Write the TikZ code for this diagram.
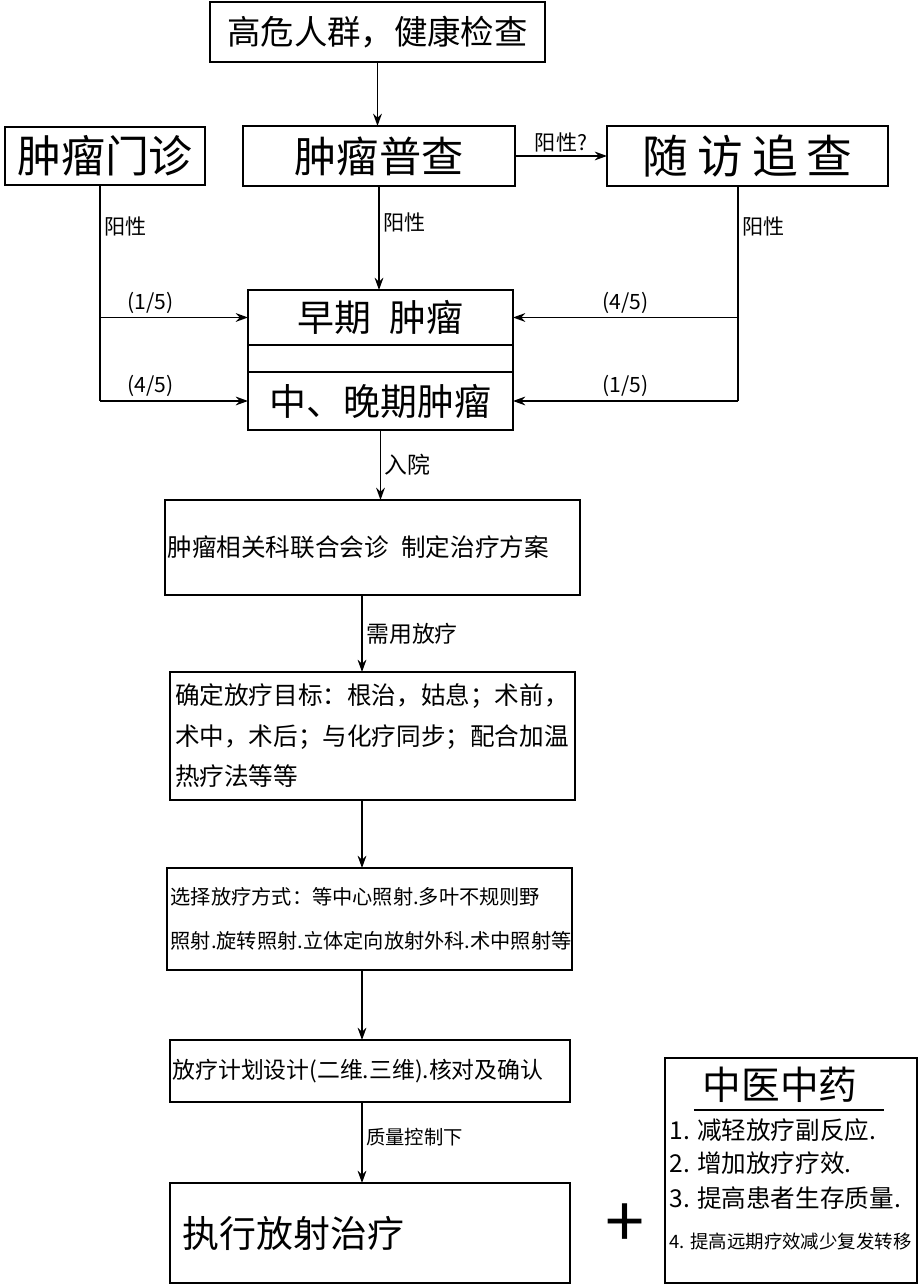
\documentclass[tikz,border=0pt]{standalone}
\usepackage{fontspec}
\setmainfont{Noto Sans CJK SC}
\usetikzlibrary{positioning,arrows.meta}
\tikzset{
  box/.style={draw, line width=1.3pt, outer sep=0pt, inner sep=0pt},
  flow/.style={-{Stealth[length=7pt,width=5pt]}, line width=0.9pt},
  bus/.style={line width=0.9pt},
  lbl/.style={font=\fontsize{12}{14}\selectfont, inner sep=2pt},
  item/.style={anchor=west, inner sep=0pt, font=\fontsize{14}{16}\selectfont},
}
\begin{document}
\begin{tikzpicture}
\path[fill=white] (0,0) rectangle (18.38,25.72);

% screening
\node[box, minimum width=6.7cm, minimum height=1.2cm, font=\fontsize{19}{22}\selectfont] (risk) at (7.55,25.08) {高危人群，健康检查};
\node[box, minimum width=4.0cm, minimum height=1.16cm, font=\fontsize{25}{28}\selectfont] (clinic) at (2.10,22.60) {肿瘤门诊};
\node[box, minimum width=5.44cm, minimum height=1.2cm, font=\fontsize{24}{28}\selectfont] (survey) at (7.58,22.60) {肿瘤普查};
\node[box, minimum width=5.62cm, minimum height=1.2cm, font=\fontsize{26}{28}\selectfont] (followup) at (14.95,22.60) {随\hspace{.2em}访\hspace{.2em}追\hspace{.2em}查};

% stages
\node[box, minimum width=5.3cm, minimum height=1.1cm, font=\fontsize{21}{24}\selectfont] (early) at (7.61,19.37) {早期\hspace{.5em}肿瘤};
\node[box, minimum width=5.3cm, minimum height=0.54cm, below=0pt of early] (band) {};
\node[box, minimum width=5.3cm, minimum height=1.16cm, font=\fontsize{21}{24}\selectfont, below=0pt of band] (late) {中、晚期肿瘤};

% treatment
\node[box, minimum width=8.3cm, minimum height=1.9cm, text width=8.2cm, align=left, font=\fontsize{14}{18}\selectfont] (consult) at (7.45,14.77) {肿瘤相关科联合会诊\hspace{.5em}制定治疗方案};
\node[box, minimum width=8.1cm, minimum height=2.56cm, text width=7.9cm, align=left, font=\fontsize{14}{23}\selectfont] (aim) at (7.45,11.0) {确定放疗目标：根治，姑息；术前，\\术中，术后；与化疗同步；配合加温\\热疗法等等};
\node[box, minimum width=8.1cm, minimum height=2.04cm, text width=7.95cm, align=left, font=\fontsize{11.5}{25}\selectfont] (mode) at (7.39,7.34) {选择放疗方式：等中心照射.多叶不规则野\\照射.旋转照射.立体定向放射外科.术中照射等};
\node[box, minimum width=8.0cm, minimum height=1.24cm, text width=7.9cm, align=left, font=\fontsize{13}{16}\selectfont] (plan) at (7.40,4.30) {放疗计划设计(二维.三维).核对及确认};
\node[box, minimum width=8.0cm, minimum height=2.0cm, text width=7.5cm, align=left, font=\fontsize{21}{24}\selectfont] (exec) at (7.40,1.06) {执行放射治疗};

% chinese medicine
\node[font=\fontsize{40}{40}\selectfont] (plus) at (12.5,1.2) {+};
\node[box, minimum width=5.04cm, minimum height=4.5cm] (tcm) at (15.82,2.31) {};
\node[font=\fontsize{22}{24}\selectfont] (tcmhead) at (15.6,4.02) {中医中药};
\draw[line width=1pt] (tcmhead.south west) ++(-0.05,-0.02) -- ++(3.8,0);
\node[item] (tcm1) at (13.38,3.12) {1. 减轻放疗副反应.};
\node[item] (tcm2) at (13.38,2.46) {2. 增加放疗疗效.};
\node[item] (tcm3) at (13.38,1.76) {3. 提高患者生存质量.};
\node[item, font=\fontsize{10.5}{13}\selectfont] (tcm4) at (13.38,0.90) {4. 提高远期疗效减少复发转移};

\coordinate (lbus) at (2.0,0);
\coordinate (rbus) at (14.76,0);
\coordinate (spine) at (7.24,0);

\draw[flow] (risk.south) -- (risk.south |- survey.north);
\draw[flow] (survey.east) -- node[lbl, above] {阳性?} (followup.west);
\draw[flow] (survey.south) -- node[lbl, right, pos=0.35] {阳性} (survey.south |- early.north);

\draw[bus] (clinic.south -| lbus) -- node[lbl, right, pos=0.19] {阳性} (lbus |- late.west);
\draw[flow] (lbus |- early.west) -- node[lbl, above, pos=0.34] {(1/5)} (early.west);
\draw[flow] (lbus |- late.west) -- node[lbl, above, pos=0.34] {(4/5)} (late.west);
\draw[bus] (followup.south -| rbus) -- node[lbl, right, pos=0.19] {阳性} (rbus |- late.east);
\draw[flow] (rbus |- early.east) -- node[lbl, above] {(4/5)} (early.east);
\draw[flow] (rbus |- late.east) -- node[lbl, above] {(1/5)} (late.east);

\draw[flow] (late.south) -- node[lbl, right, font=\fontsize{13}{15}\selectfont] {入院} (late.south |- consult.north);
\draw[flow] (consult.south -| spine) -- node[lbl, right, font=\fontsize{13}{15}\selectfont] {需用放疗} (aim.north -| spine);
\draw[flow] (aim.south -| spine) -- (mode.north -| spine);
\draw[flow] (mode.south -| spine) -- (plan.north -| spine);
\draw[flow] (plan.south -| spine) -- node[lbl, right, pos=0.43, font=\fontsize{11}{13}\selectfont] {质量控制下} (exec.north -| spine);
\end{tikzpicture}
\end{document}
